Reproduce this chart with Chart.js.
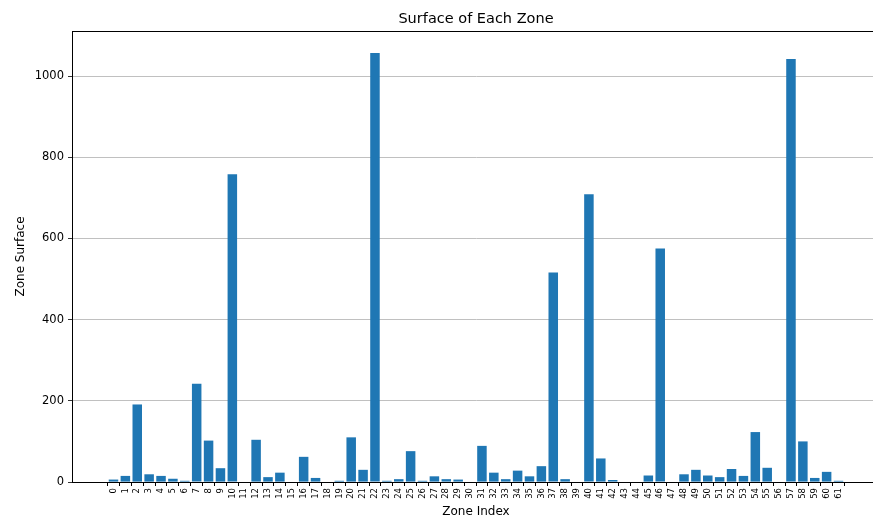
<!DOCTYPE html>
<html>
<head>
<meta charset="utf-8">
<script src="https://cdn.jsdelivr.net/npm/chart.js@4/dist/chart.umd.min.js"></script>
<style>
  html, body { margin: 0; padding: 0; overflow: hidden; background: #fff; }
  #wrap { width: 952px; height: 523px; }
</style>
</head>
<body>
<div id="wrap"><canvas id="zoneChart" width="952" height="523"></canvas></div>
<script>
const zoneIndex = [];
for (let i = 0; i <= 61; i++) zoneIndex.push(i);

const zoneSurface = [
  6, 15, 191, 19, 15, 8, 3, 242, 102, 34,
  758, 0, 104, 12, 23, 0, 62, 10, 0, 3,
  110, 30, 1057, 3, 7, 76, 3, 14, 7, 6,
  0, 89, 23, 7, 28, 14, 39, 516, 7, 0,
  709, 58, 5, 0, 0, 16, 575, 0, 19, 30,
  16, 12, 32, 15, 123, 35, 0, 1042, 100, 10,
  25, 3
];

const yTicks = [0, 200, 400, 600, 800, 1000];

const FONT = "'DejaVu Sans', sans-serif";

// top/right spines + title centred over the plot area
const framePlugin = {
  id: 'frame',
  afterDraw(chart) {
    const { ctx, chartArea: a } = chart;
    ctx.save();
    ctx.strokeStyle = '#000';
    ctx.lineWidth = 1;
    ctx.strokeRect(a.left + 0.5, a.top + 0.5, a.right - a.left, a.bottom - a.top);
    ctx.fillStyle = '#000';
    ctx.font = '14.5px ' + FONT;
    ctx.textAlign = 'center';
    ctx.textBaseline = 'middle';
    ctx.fillText('Surface of Each Zone', (a.left + a.right) / 2, 19);
    ctx.restore();
  }
};

const ctx = document.getElementById('zoneChart').getContext('2d');
new Chart(ctx, {
  type: 'bar',
  data: {
    datasets: [{
      data: zoneIndex.map((x, i) => ({ x: x, y: zoneSurface[i] })),
      backgroundColor: '#1f77b4',
      borderWidth: 0,
      barPercentage: 0.8,
      categoryPercentage: 1.0
    }]
  },
  options: {
    responsive: false,
    animation: false,
    layout: { padding: { top: 31, right: 72, bottom: 0, left: 0 } },
    plugins: {
      legend: { display: false },
      title: { display: false },
      tooltip: { enabled: false }
    },
    scales: {
      x: {
        type: 'linear',
        min: -3.49,
        max: 64.49,
        offset: false,
        afterBuildTicks: s => { s.ticks = zoneIndex.map(v => ({ value: v })); },
        afterFit: s => { s.height = 41; },
        grid: { drawOnChartArea: false, drawTicks: true, tickLength: 4, tickColor: '#000' },
        border: { display: true, color: '#000' },
        ticks: {
          autoSkip: false,
          maxRotation: 90,
          minRotation: 90,
          padding: 2,
          color: '#000',
          font: { family: FONT, size: 8.5 },
          callback: v => String(v)
        },
        title: {
          display: true,
          text: 'Zone Index',
          color: '#000',
          font: { family: FONT, size: 12 },
          padding: { top: 0, bottom: 4 }
        }
      },
      y: {
        min: 0,
        max: 1111,
        afterBuildTicks: s => { s.ticks = yTicks.map(v => ({ value: v })); },
        afterFit: s => { s.width = 72; },
        grid: { color: '#b0b0b0', lineWidth: 0.8, tickLength: 4, tickColor: '#000' },
        border: { display: true, color: '#000' },
        ticks: {
          padding: 4,
          color: '#000',
          font: { family: FONT, size: 11.5 },
          callback: v => String(v)
        },
        title: {
          display: true,
          text: 'Zone Surface',
          color: '#000',
          font: { family: FONT, size: 12 },
          padding: { top: 14, bottom: 0 }
        }
      }
    }
  },
  plugins: [framePlugin]
});
</script>
</body>
</html>
